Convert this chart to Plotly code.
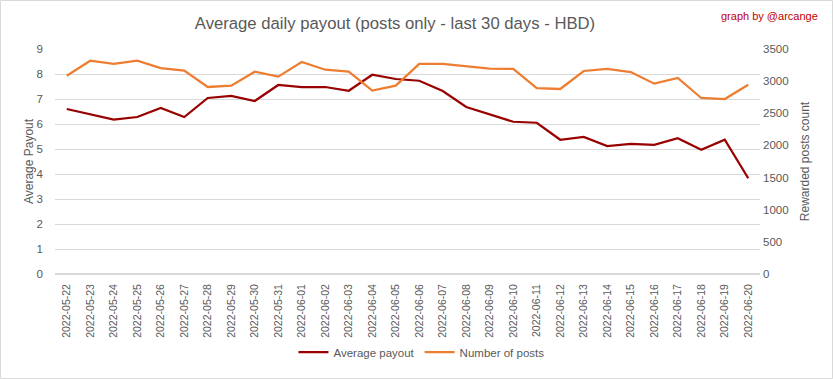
import plotly.graph_objects as go

dates = ["2022-05-22","2022-05-23","2022-05-24","2022-05-25","2022-05-26","2022-05-27",
         "2022-05-28","2022-05-29","2022-05-30","2022-05-31","2022-06-01","2022-06-02",
         "2022-06-03","2022-06-04","2022-06-05","2022-06-06","2022-06-07","2022-06-08",
         "2022-06-09","2022-06-10","2022-06-11","2022-06-12","2022-06-13","2022-06-14",
         "2022-06-15","2022-06-16","2022-06-17","2022-06-18","2022-06-19","2022-06-20"]

avg_payout = [6.60, 6.39, 6.18, 6.28, 6.64, 6.28, 7.04, 7.12, 6.92, 7.56, 7.48, 7.48,
              7.33, 7.97, 7.80, 7.73, 7.32, 6.68, 6.40, 6.09, 6.05, 5.37, 5.48, 5.12,
              5.20, 5.17, 5.43, 4.97, 5.37, 3.83]

num_posts = [3085, 3318, 3267, 3318, 3204, 3163, 2909, 2930, 3147, 3070, 3298, 3178,
             3147, 2852, 2930, 3267, 3267, 3225, 3194, 3189, 2893, 2878, 3158, 3189,
             3142, 2961, 3049, 2738, 2722, 2945]

FONT = "Liberation Sans Narrow, Liberation Sans, Arial, sans-serif"
GREY = "#595959"

fig = go.Figure()
fig.add_trace(go.Scatter(x=dates, y=avg_payout, name="Average payout", mode="lines",
                         line=dict(color="#990000", width=2.25)))
fig.add_trace(go.Scatter(x=dates, y=num_posts, name="Number of posts", mode="lines",
                         line=dict(color="#ed7d31", width=2.25), yaxis="y2"))

L, R, T, B = 55, 73, 49, 105
W, H = 833, 379
pw, ph = W - L - R, H - T - B

fig.update_layout(
    width=W, height=H,
    margin=dict(l=L, r=R, t=T, b=B, pad=0, autoexpand=False),
    paper_bgcolor="white", plot_bgcolor="white",
    font=dict(family=FONT, color=GREY, size=12),
    title=dict(text="Average daily payout (posts only - last 30 days - HBD)",
               x=395/W, xanchor="center", y=1 - 23/H, yanchor="middle",
               font=dict(size=16.7, color=GREY, family=FONT)),
    xaxis=dict(type="category", tickangle=-90, showgrid=False, showline=False,
               range=[-0.5, len(dates) - 0.5],
               ticks="", tickfont=dict(size=10.5, color=GREY), ticklabelstandoff=7,
               automargin=False),
    yaxis=dict(range=[0, 9], dtick=1, showgrid=True, gridcolor="#d9d9d9", gridwidth=1,
               zeroline=True, zerolinecolor="#d9d9d9", showline=False, ticks="",
               tickfont=dict(size=11.5, color=GREY), ticklabelstandoff=11, automargin=False,
               title=dict(text="Average Payout", font=dict(size=12, color=GREY), standoff=0)),
    yaxis2=dict(range=[0, 3500], dtick=500, overlaying="y", side="right", showgrid=False,
                zeroline=False, showline=False, ticks="", automargin=False,
                tickfont=dict(size=11.5, color=GREY), ticklabelstandoff=2,
                title=dict(text="Rewarded posts count", font=dict(size=12, color=GREY), standoff=13)),
    legend=dict(orientation="h", x=433/W, xanchor="center", xref="paper",
                y=-(352 - T - ph) / ph, yanchor="middle",
                font=dict(size=11.5, color=GREY), itemwidth=30, traceorder="normal"),
    showlegend=True,
)

fig.add_annotation(text="graph by @arcange", xref="paper", yref="paper",
                   x=(W - 13 - L) / pw, y=1 + (T - 16) / ph, xanchor="right", yanchor="middle",
                   showarrow=False, font=dict(size=11, color="#c00000", family=FONT))

fig.add_shape(type="rect", xref="paper", yref="paper",
              x0=-(L - 0.5) / pw, x1=1 + (R - 0.5) / pw,
              y0=-(B - 0.5) / ph, y1=1 + (T - 0.5) / ph,
              line=dict(color="#d9d9d9", width=1), fillcolor="rgba(0,0,0,0)", layer="below")

fig.write_html("out.html", config={"displayModeBar": False},
               post_script="document.body.style.margin='0';document.body.style.overflow='hidden';")
